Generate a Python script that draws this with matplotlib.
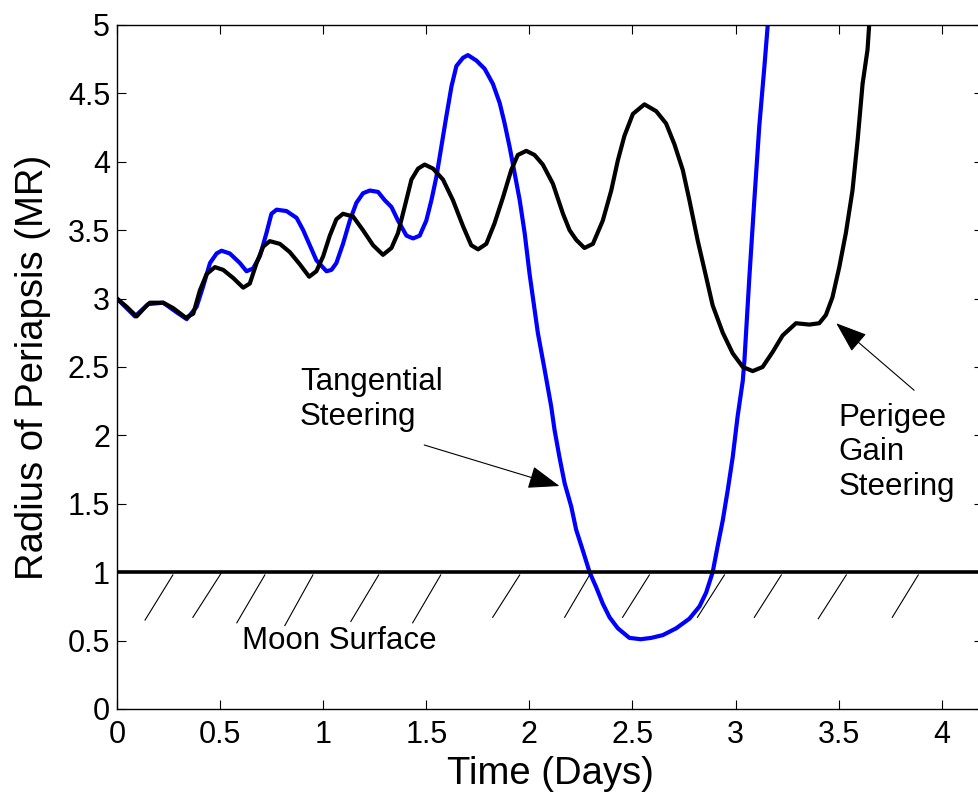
#!/usr/bin/env python3
"""
Radius of periapsis vs time for two lunar steering laws
"""

import numpy as np
import matplotlib.pyplot as plt

plt.rcParams['font.family'] = ['Liberation Sans', 'DejaVu Sans']

# Tangential steering (blue)
t_tan = [0.000, 0.047, 0.087, 0.152, 0.224, 0.289, 0.338, 0.386, 0.418, 0.451,
         0.483, 0.507, 0.547, 0.596, 0.628, 0.660, 0.693, 0.725, 0.749, 0.774,
         0.822, 0.871, 0.903, 0.935, 0.967, 1.016, 1.040, 1.064, 1.096, 1.129,
         1.161, 1.193, 1.226, 1.266, 1.298, 1.331, 1.363, 1.404, 1.436, 1.468,
         1.500, 1.525, 1.549, 1.573, 1.597, 1.622, 1.646, 1.678, 1.702, 1.743,
         1.783, 1.823, 1.856, 1.880, 1.904, 1.928, 1.953, 1.977, 2.001, 2.041,
         2.074, 2.106, 2.122, 2.146, 2.171, 2.203, 2.227, 2.259, 2.292,
         2.324, 2.356, 2.389, 2.429, 2.485, 2.540, 2.591, 2.647, 2.712, 2.776,
         2.825, 2.857, 2.889, 2.913, 2.938, 2.962, 2.986, 3.010, 3.035, 3.043,
         3.067, 3.091, 3.115, 3.140, 3.156, 3.165]
r_tan = [3.00, 2.93, 2.87, 2.96, 2.97, 2.90, 2.85, 2.94, 3.09, 3.26,
         3.33, 3.35, 3.33, 3.26, 3.20, 3.22, 3.31, 3.48, 3.62, 3.65,
         3.64, 3.59, 3.50, 3.39, 3.28, 3.20, 3.21, 3.26, 3.40, 3.57,
         3.70, 3.77, 3.79, 3.78, 3.72, 3.67, 3.57, 3.46, 3.44, 3.46,
         3.57, 3.72, 3.89, 4.11, 4.33, 4.55, 4.70, 4.76, 4.78, 4.74,
         4.68, 4.57, 4.43, 4.28, 4.11, 3.92, 3.72, 3.48, 3.18, 2.75,
         2.48, 2.21, 2.04, 1.84, 1.65, 1.48, 1.31, 1.16, 1.00,
         0.89, 0.77, 0.67, 0.59, 0.52, 0.51, 0.52, 0.54, 0.59, 0.66,
         0.75, 0.85, 1.00, 1.19, 1.38, 1.60, 1.84, 2.14, 2.40, 2.55,
         3.16, 3.72, 4.26, 4.70, 5.00, 5.20]

# Perigee gain steering (black)
t_pg = [0.000, 0.047, 0.095, 0.144, 0.160, 0.224, 0.273, 0.334, 0.370, 0.402,
        0.435, 0.475, 0.515, 0.564, 0.612, 0.644, 0.677, 0.709, 0.741, 0.790,
        0.838, 0.887, 0.932, 0.967, 1.000, 1.032, 1.064, 1.096, 1.145, 1.193,
        1.242, 1.290, 1.331, 1.363, 1.395, 1.428, 1.460, 1.492, 1.533, 1.581,
        1.629, 1.678, 1.718, 1.751, 1.791, 1.831, 1.872, 1.912, 1.944, 1.985,
        2.025, 2.065, 2.114, 2.163, 2.195, 2.227, 2.267, 2.308, 2.356, 2.397,
        2.429, 2.461, 2.502, 2.558, 2.615, 2.663, 2.703, 2.744, 2.776, 2.817,
        2.857, 2.889, 2.938, 2.986, 3.035, 3.083, 3.131, 3.180, 3.228, 3.293,
        3.358, 3.406, 3.438, 3.470, 3.503, 3.535, 3.567, 3.592, 3.616, 3.640,
        3.648, 3.655]
r_pg = [3.00, 2.94, 2.87, 2.95, 2.97, 2.97, 2.93, 2.86, 2.89, 3.06,
        3.18, 3.23, 3.21, 3.15, 3.08, 3.11, 3.26, 3.38, 3.42, 3.40,
        3.34, 3.25, 3.16, 3.20, 3.31, 3.46, 3.58, 3.62, 3.60, 3.50,
        3.39, 3.32, 3.37, 3.48, 3.67, 3.87, 3.95, 3.98, 3.95, 3.87,
        3.72, 3.53, 3.39, 3.36, 3.40, 3.55, 3.74, 3.94, 4.05, 4.08,
        4.05, 3.98, 3.84, 3.62, 3.50, 3.43, 3.37, 3.40, 3.57, 3.79,
        4.01, 4.19, 4.35, 4.42, 4.37, 4.28, 4.13, 3.94, 3.72, 3.42,
        3.16, 2.95, 2.75, 2.60, 2.50, 2.47, 2.50, 2.61, 2.73, 2.82,
        2.81, 2.82, 2.88, 3.01, 3.23, 3.48, 3.79, 4.16, 4.57, 4.82,
        5.00, 5.20]

moon_radius = 1.0

# hatch marks under the surface line
hatch_x0 = [0.136, 0.368, 0.581, 0.814, 1.134, 1.434, 1.822, 2.171, 2.452,
            2.815, 3.091, 3.401, 3.760]
hatch_x1 = [0.271, 0.504, 0.717, 0.950, 1.269, 1.570, 1.953, 2.292, 2.582,
            2.946, 3.222, 3.537, 3.886]
hatch_y0 = [0.65, 0.67, 0.63, 0.61, 0.64, 0.63, 0.67, 0.67, 0.67, 0.67, 0.67,
            0.66, 0.67]
hatch_y1 = [0.98, 0.99, 0.98, 0.98, 0.98, 0.98, 0.98, 0.98, 0.98, 0.98, 0.98,
            0.98, 0.98]

xticks = np.arange(0, 4.01, 0.5)
yticks = np.arange(0, 5.01, 0.5)


def fmt(v):
    return f'{v:g}'


fig = plt.figure(figsize=(9.79, 7.94), dpi=100)
ax = fig.add_axes([117 / 979, 85 / 794, 866 / 979, 684 / 794])

ax.plot(t_tan, r_tan, color='#0000ff', linewidth=3.0, solid_joinstyle='round')
ax.plot(t_pg, r_pg, color='black', linewidth=3.0, solid_joinstyle='round')
ax.axhline(moon_radius, color='black', linewidth=2.6)

for x0, x1, y0, y1 in zip(hatch_x0, hatch_x1, hatch_y0, hatch_y1):
    ax.plot([x0, x1], [y0, y1], color='black', linewidth=0.8)

ax.text(1.076, 0.50, 'Moon Surface', fontsize=22.5, ha='center', va='center')
ax.text(0.887, 2.50, 'Tangential\nSteering', fontsize=22.5, ha='left', va='top')
ax.text(3.498, 2.24, 'Perigee\nGain\nSteering', fontsize=22.5, ha='left', va='top')

arrow = dict(arrowstyle='-|>,head_length=0.55,head_width=0.2', color='black',
             linewidth=0.8, mutation_scale=36, shrinkA=0, shrinkB=0)
ax.annotate('', xy=(2.146, 1.63), xytext=(1.49, 1.93), arrowprops=arrow)
ax.annotate('', xy=(3.488, 2.82), xytext=(3.866, 2.33), arrowprops=arrow)

ax.set_xlim(0, 4.2)
ax.set_ylim(0, 5)
ax.set_xticks(xticks)
ax.set_yticks(yticks)
ax.set_xticklabels([fmt(v) for v in xticks])
ax.set_yticklabels([fmt(v) for v in yticks])
ax.tick_params(direction='in', length=6.5, width=0.8, labelsize=22,
               top=True, right=True)
ax.tick_params(axis='x', pad=8)
ax.tick_params(axis='y', pad=5)
for s in ax.spines.values():
    s.set_linewidth(1.0)

ax.set_xlabel('Time (Days)', fontsize=27.5, labelpad=4)
ax.set_ylabel('Radius of Periapsis (MR)', fontsize=27.5, labelpad=12)

plt.savefig('out.png', dpi=100)
